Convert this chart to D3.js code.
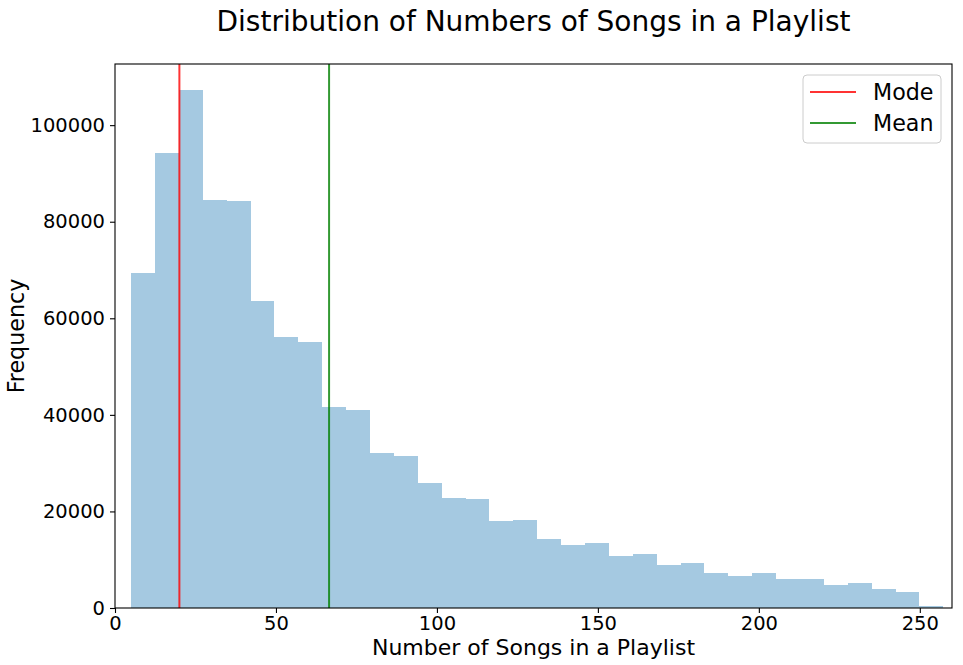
<!DOCTYPE html>
<html>
<head>
<meta charset="utf-8">
<script src="https://cdn.jsdelivr.net/npm/d3@7"></script>
<style>
  body { margin: 0; background: #fff; }
  svg { font-family: "DejaVu Sans", sans-serif; }
</style>
</head>
<body>
<svg width="963" height="665"></svg>
<script>

// histogram of playlist lengths, 34 bins from 5 to ~257
var binStart = 5,
    binEnd = 257.3;
var counts = [69400, 94200, 107300, 84500, 84300, 63600, 56100, 55100, 41600, 41000,
              32100, 31400, 25800, 22700, 22500, 18000, 18200, 14200, 13000, 13400,
              10700, 11100, 8850, 9250, 7200, 6550, 7200, 5950, 5950, 4700,
              5100, 3900, 3250, 350];
var modeValue = 20;
var meanValue = 66.5;

var xTicks = [0, 50, 100, 150, 200, 250];
var yTicks = [0, 20000, 40000, 60000, 80000, 100000];
var legendItems = [
    { label: "Mode", color: "red" },
    { label: "Mean", color: "green" }
];

var svg = d3.select("svg"),
    margin = {left: 115, right: 11, top: 64, bottom: 57},
    width = +svg.attr("width") - margin.left - margin.right,
    height = +svg.attr("height") - margin.top - margin.bottom;

var binWidth = (binEnd - binStart) / counts.length;
var bins = counts.map(function (c, i) {
    return { x0: binStart + i * binWidth, x1: binStart + (i + 1) * binWidth, count: c };
});

var x = d3.scaleLinear().domain([0, 260]).range([0, width]);
var y = d3.scaleLinear().domain([0, d3.max(counts) * 1.05]).range([height, 0]);

var g = svg.append("g")
    .attr("transform", "translate(" + margin.left + "," + margin.top + ")");

// bars
g.append("g")
    .selectAll("rect")
    .data(bins)
    .enter().append("rect")
    .attr("x", function (d) { return x(d.x0); })
    .attr("width", function (d) { return x(d.x1) - x(d.x0); })
    .attr("y", function (d) { return y(d.count); })
    .attr("height", function (d) { return height - y(d.count); })
    .attr("fill", "#a5c9e1")
    .attr("shape-rendering", "crispEdges");

// mode / mean lines
g.append("line")
    .attr("x1", x(modeValue)).attr("x2", x(modeValue))
    .attr("y1", 0).attr("y2", height)
    .attr("stroke", "red").attr("stroke-opacity", 0.8).attr("stroke-width", 2);
g.append("line")
    .attr("x1", x(meanValue)).attr("x2", x(meanValue))
    .attr("y1", 0).attr("y2", height)
    .attr("stroke", "green").attr("stroke-opacity", 0.8).attr("stroke-width", 2);

// axes
var xAxis = g.append("g")
    .attr("transform", "translate(0," + height + ")")
    .call(d3.axisBottom(x).tickValues(xTicks).tickSize(5).tickPadding(3).tickFormat(d3.format("d")));
var yAxis = g.append("g")
    .call(d3.axisLeft(y).tickValues(yTicks).tickSize(5).tickPadding(5).tickFormat(d3.format("d")));

[xAxis, yAxis].forEach(function (a) {
    a.select(".domain").remove();
    a.selectAll("line").attr("stroke", "#000").attr("stroke-width", 1.1);
    a.selectAll("text").attr("font-size", 19.5).attr("fill", "#000")
        .attr("font-family", "DejaVu Sans");
});

// frame
g.append("rect")
    .attr("x", 0).attr("y", 0)
    .attr("width", width).attr("height", height)
    .attr("fill", "none").attr("stroke", "#000").attr("stroke-width", 1.1);

// labels
svg.append("text")
    .attr("x", margin.left + width / 2)
    .attr("y", 31)
    .attr("text-anchor", "middle")
    .attr("font-size", 28)
    .text("Distribution of Numbers of Songs in a Playlist");

svg.append("text")
    .attr("x", margin.left + width / 2)
    .attr("y", 655)
    .attr("text-anchor", "middle")
    .attr("font-size", 22)
    .text("Number of Songs in a Playlist");

svg.append("text")
    .attr("transform", "translate(24," + (margin.top + height / 2) + ") rotate(-90)")
    .attr("text-anchor", "middle")
    .attr("font-size", 22.2)
    .text("Frequency");

// legend
var legend = svg.append("g").attr("transform", "translate(803,75)");
legend.append("rect")
    .attr("width", 138).attr("height", 68)
    .attr("rx", 4).attr("ry", 4)
    .attr("fill", "#fff").attr("fill-opacity", 0.8)
    .attr("stroke", "#ccc").attr("stroke-width", 1);

var item = legend.selectAll(".item")
    .data(legendItems)
    .enter().append("g")
    .attr("transform", function (d, i) { return "translate(0," + (17 + i * 31) + ")"; });
item.append("line")
    .attr("x1", 7).attr("x2", 53)
    .attr("stroke", function (d) { return d.color; })
    .attr("stroke-opacity", 0.8)
    .attr("stroke-width", 2);
item.append("text")
    .attr("x", 70)
    .attr("dy", "0.35em")
    .attr("font-size", 22.2)
    .text(function (d) { return d.label; });

</script>
</body>
</html>
